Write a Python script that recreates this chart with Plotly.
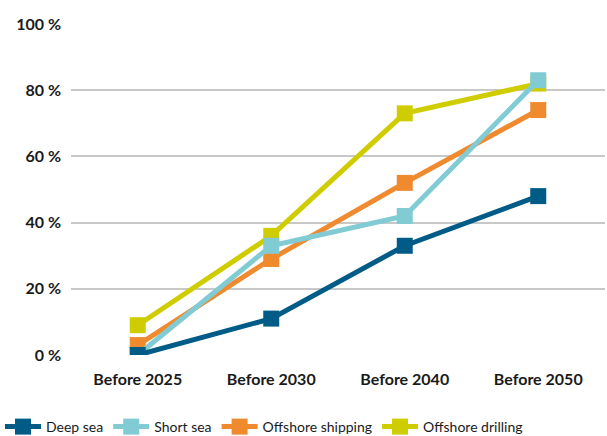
import plotly.graph_objects as go

categories = ["Before 2025", "Before 2030", "Before 2040", "Before 2050"]
deep_sea = [0, 11, 33, 48]
short_sea = [0, 33, 42, 83]
offshore_shipping = [3, 29, 52, 74]
offshore_drilling = [9, 36, 73, 82]
y_ticks = [0, 20, 40, 60, 80, 100]
y_tick_labels = ["0 %", "20 %", "40 %", "60 %", "80 %", "100 %"]

series = [
    ("Deep sea", deep_sea, "#005b87"),
    ("Short sea", short_sea, "#80cbd4"),
    ("Offshore shipping", offshore_shipping, "#f08a2f"),
    ("Offshore drilling", offshore_drilling, "#cfcc00"),
]

fig = go.Figure()
# draw in reverse so deep sea is on top
for name, vals, color in reversed(series):
    fig.add_trace(go.Scatter(
        x=categories, y=vals, name=name, mode="lines+markers",
        line=dict(color=color, width=5),
        marker=dict(symbol="square", size=16, color=color),
    ))

font_family = "Lato, 'Open Sans', sans-serif"
fig.update_layout(
    width=607, height=436,
    margin=dict(l=71, r=2, t=24, b=81, autoexpand=False),
    paper_bgcolor="white", plot_bgcolor="white",
    font=dict(family=font_family, size=14, color="#1a1a1a"),
    showlegend=True,
    legend=dict(orientation="h", xref="container", yref="container",
                x=0.0, xanchor="left", y=0.0206, yanchor="middle",
                traceorder="reversed", font=dict(size=14, color="#1a1a1a"),
                itemwidth=36, tracegroupgap=0),
    xaxis=dict(showgrid=False, showline=False, zeroline=False, ticks="",
               tickfont=dict(size=16, weight="bold"), range=[-0.5, 3.5],
               automargin=False, ticklabelstandoff=13),
    yaxis=dict(range=[0, 100], tickvals=y_ticks, ticktext=y_tick_labels,
               showgrid=True, gridcolor="#c8c8c8", gridwidth=1.5,
               zeroline=False, showline=False, ticks="", automargin=False,
               tickfont=dict(size=16, weight="bold"), ticklabelstandoff=9),
)
fig.write_html("out.html", config={"displayModeBar": False},
               post_script="document.body.style.margin='0';document.body.style.overflow='hidden';")
